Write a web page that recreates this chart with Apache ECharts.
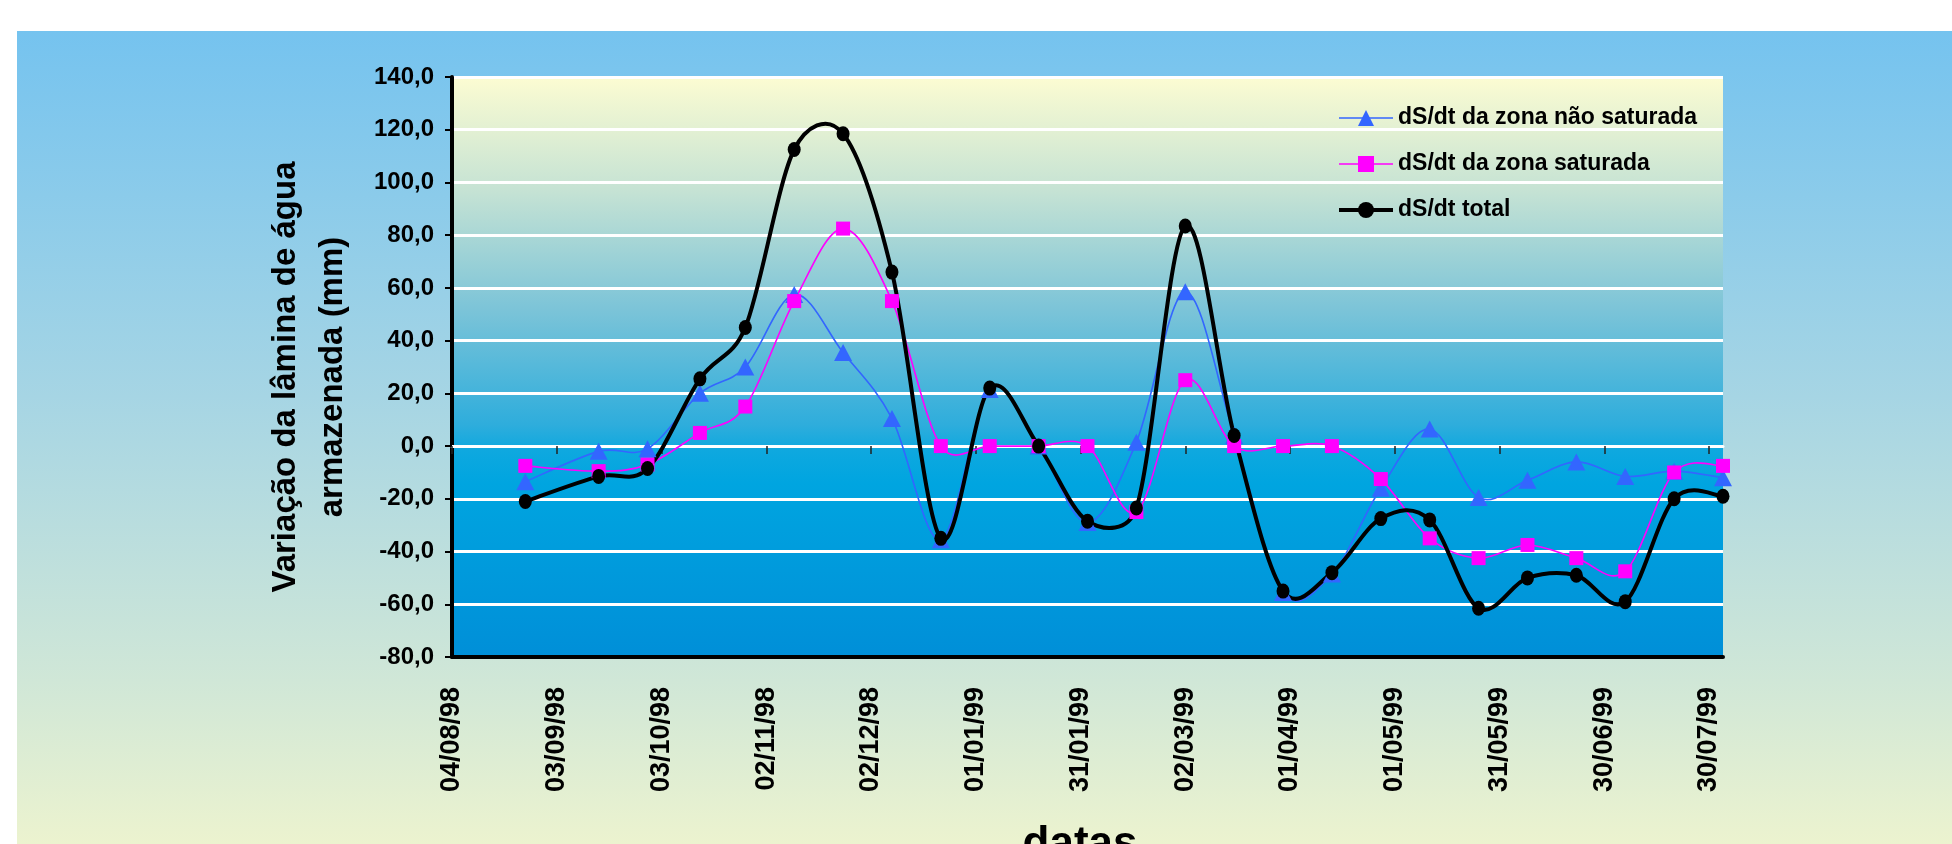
<!DOCTYPE html>
<html>
<head>
<meta charset="utf-8">
<script src="https://cdn.jsdelivr.net/npm/echarts@6/dist/echarts.min.js"></script>
<style>
  html, body { margin: 0; padding: 0; background: #ffffff; }
  #chart { width: 1952px; height: 844px; }
</style>
</head>
<body>
<div id="chart"></div>
<script>
// Sampling dates (dd/mm/yy) and storage change per zone, in mm
const sampleDates = ['25/08/98','15/09/98','29/09/98','14/10/98','27/10/98','10/11/98','24/11/98',
  '08/12/98','22/12/98','05/01/99','19/01/99','02/02/99','16/02/99','02/03/99','16/03/99',
  '30/03/99','13/04/99','27/04/99','11/05/99','25/05/99','08/06/99','22/06/99','06/07/99',
  '20/07/99','03/08/99'];
const naoSaturada = [-13.5, -2, -1, 20, 30, 57.5, 35.5, 10.5, -35.5, 21.5, 0, -29, 1.5,
  58.5, 4, -55.5, -48.5, -16, 6.5, -19.5, -13, -6, -11.5, -9.5, -12];
const saturada = [-7.5, -9.5, -7, 5, 15, 55, 82.5, 55, 0, 0, 0, 0, -25,
  25, 0, 0, 0, -12.5, -35, -42.5, -37.5, -42.5, -47.5, -10, -7.5];
const total = [-21, -11.5, -8.5, 25.5, 45, 112.5, 118.5, 66, -35, 22, 0, -28.5, -23.5,
  83.5, 4, -55, -48, -27.5, -28, -61.5, -50, -49, -59, -20, -19];

// Date axis: days counted from 04/08/98, one labelled tick every 30 days
const axisStart = '04/08/98';
const axisEnd = '03/08/99';
const xTickLabels = ['04/08/98','03/09/98','03/10/98','02/11/98','02/12/98','01/01/99',
  '31/01/99','02/03/99','01/04/99','01/05/99','31/05/99','30/06/99','30/07/99'];
const xTickStep = 30;
const yTicks = { min: -80, max: 140, step: 20 };

const seriesNames = ['dS/dt da zona não saturada', 'dS/dt da zona saturada', 'dS/dt total'];
const seriesColors = ['#3366ff', '#ff00ff', '#000000'];
const lineWidths = [1.6, 1.6, 4];

function toUTC(s) {
  const [d, m, y] = s.split('/').map(Number);
  return Date.UTC(1900 + y, m - 1, d);
}
function dayOf(s) {
  return Math.round((toUTC(s) - toUTC(axisStart)) / 86400000);
}
const tickValues = xTickLabels.map(dayOf);
function pairs(values) {
  return sampleDates.map((d, i) => [dayOf(d), values[i]]);
}

// Tangent handle for a smoothed segment: a sixth of the neighbour chord,
// never longer than half of the segment it belongs to.
function handle(prev, next, segLen) {
  let dx = (next[0] - prev[0]) / 6, dy = (next[1] - prev[1]) / 6;
  const len = Math.hypot(dx, dy), lim = segLen / 2;
  if (len > lim && len > 0) { dx *= lim / len; dy *= lim / len; }
  return [dx, dy];
}

// Smoothed curve drawn through the axis scales: each data item renders the
// cubic Bezier segment that joins it to the next item.
function curveSeries(data, color, width) {
  return {
    type: 'custom', xAxisIndex: 0, yAxisIndex: 0, silent: true,
    data: data,
    encode: { x: 0, y: 1 },
    renderItem: function (params, api) {
      const i = params.dataIndex;
      if (i >= data.length - 1) return null;
      const p = k => api.coord(data[Math.max(0, Math.min(data.length - 1, k))]);
      const p0 = p(i - 1), p1 = p(i), p2 = p(i + 1), p3 = p(i + 2);
      const seg = Math.hypot(p2[0] - p1[0], p2[1] - p1[1]);
      const h1 = handle(p0, p2, seg), h2 = handle(p1, p3, seg);
      return {
        type: 'bezierCurve',
        shape: {
          x1: p1[0], y1: p1[1], x2: p2[0], y2: p2[1],
          cpx1: p1[0] + h1[0], cpy1: p1[1] + h1[1],
          cpx2: p2[0] - h2[0], cpy2: p2[1] - h2[1]
        },
        style: { stroke: color, lineWidth: width, fill: null, lineCap: 'round', lineJoin: 'round' }
      };
    }
  };
}
function markerSeries(idx, data, symbol, size) {
  return {
    name: seriesNames[idx], type: 'line', xAxisIndex: 0, yAxisIndex: 0,
    symbol: symbol, symbolSize: size, showAllSymbol: true,
    lineStyle: { color: seriesColors[idx], width: lineWidths[idx], opacity: 0 },
    itemStyle: { color: seriesColors[idx] },
    data: data
  };
}

const FONT = '"Liberation Sans", Arial, "DejaVu Sans", sans-serif';
const chart = echarts.init(document.getElementById('chart'), null, { renderer: 'canvas' });

const xBase = { type: 'value', min: 0, max: dayOf(axisEnd), interval: xTickStep, gridIndex: 0 };
const dNao = pairs(naoSaturada), dSat = pairs(saturada), dTot = pairs(total);

chart.setOption({
  animation: false,
  backgroundColor: '#ffffff',
  textStyle: { fontFamily: FONT },
  graphic: [
    {
      type: 'rect', z: -10, silent: true,
      shape: { x: 17, y: 31, width: 1935, height: 813 },
      style: {
        fill: new echarts.graphic.LinearGradient(0, 0, 0, 1, [
          { offset: 0, color: '#75c3ef' },
          { offset: 0.45, color: '#a6d5e4' },
          { offset: 0.8, color: '#d0e7d7' },
          { offset: 1, color: '#ecf3cf' }
        ])
      }
    },
    {
      type: 'text', silent: true,
      x: 309, y: 377, rotation: Math.PI / 2,
      style: {
        text: 'Variação da lâmina de água\narmazenada (mm)',
        fontFamily: FONT, fontWeight: 'bold', fontSize: 33, lineHeight: 47,
        fill: '#000', align: 'center', verticalAlign: 'middle'
      }
    },
    {
      type: 'text', silent: true,
      x: 1080, y: 845,
      style: {
        text: 'datas', fontFamily: FONT, fontWeight: 'bold', fontSize: 44,
        fill: '#000', align: 'center', verticalAlign: 'middle'
      }
    }
  ],
  grid: {
    left: 452, right: 229, top: 77, bottom: 187,
    show: true, borderWidth: 0,
    backgroundColor: new echarts.graphic.LinearGradient(0, 0, 0, 1, [
      { offset: 0, color: '#fcfcd2' },
      { offset: 0.2, color: '#c4e2d4' },
      { offset: 0.4, color: '#7cc4d8' },
      { offset: 0.6, color: '#2eaddc' },
      { offset: 0.645, color: '#0ea8df' },
      { offset: 0.7, color: '#00a5e0' },
      { offset: 1, color: '#008fd8' }
    ])
  },
  legend: {
    orient: 'vertical',
    left: 1332, top: 90,
    itemWidth: 54, itemHeight: 20, itemGap: 0,
    textStyle: { fontFamily: FONT, fontWeight: 'bold', fontSize: 23, color: '#000', lineHeight: 24, padding: [0, 0, 22, 0] },
    data: seriesNames.map((n, i) => ({
      name: n,
      lineStyle: { color: seriesColors[i], width: lineWidths[i], opacity: 1, type: 'solid' }
    }))
  },
  xAxis: [
    Object.assign({}, xBase, {
      position: 'bottom',
      axisLine: { show: true, onZero: false, lineStyle: { color: '#000', width: 4 } },
      axisTick: { show: false },
      splitLine: { show: false },
      axisLabel: {
        customValues: tickValues,
        rotate: 90, margin: 30, padding: [0, 0, 9, 0],
        fontFamily: FONT, fontWeight: 'bold', fontSize: 27, color: '#000',
        formatter: v => { const i = tickValues.indexOf(v); return i >= 0 ? xTickLabels[i] : ''; }
      }
    }),
    Object.assign({}, xBase, {
      position: 'bottom',
      axisLine: { show: true, onZero: true, lineStyle: { color: '#ffffff', width: 3 } },
      axisTick: { show: true, customValues: tickValues, length: 8, lineStyle: { color: '#222', width: 1.5 } },
      axisLabel: { show: false },
      splitLine: { show: false }
    })
  ],
  yAxis: {
    type: 'value', min: yTicks.min, max: yTicks.max, interval: yTicks.step,
    axisLine: { show: true, onZero: false, lineStyle: { color: '#000', width: 4 } },
    axisTick: { show: true, length: 7, lineStyle: { color: '#000', width: 2 } },
    axisLabel: {
      margin: 18, fontFamily: FONT, fontWeight: 'bold', fontSize: 24, color: '#000',
      formatter: v => v.toFixed(1).replace('.', ',')
    },
    splitLine: { show: true, lineStyle: { color: '#ffffff', width: 3 } }
  },
  series: [
    curveSeries(dNao, seriesColors[0], lineWidths[0]),
    markerSeries(0, dNao, 'triangle', [18, 17]),
    curveSeries(dSat, seriesColors[1], lineWidths[1]),
    markerSeries(1, dSat, 'rect', 14),
    curveSeries(dTot, seriesColors[2], lineWidths[2]),
    markerSeries(2, dTot, 'circle', [13, 15])
  ]
});
</script>
</body>
</html>
